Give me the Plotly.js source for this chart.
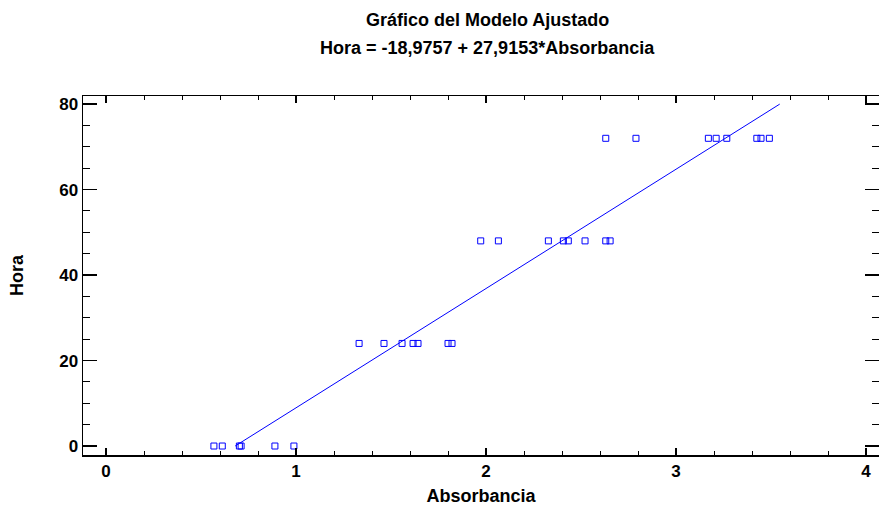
<!DOCTYPE html>
<html>
<head>
<meta charset="utf-8">
<script src="https://cdn.plot.ly/plotly-3.0.1.min.js"></script>
<style>html,body{margin:0;padding:0;background:#fff;}#chart{width:879px;height:508px;}</style>
</head>
<body>
<div id="chart"></div>
<script>
// Observed data: Absorbancia (x) and Hora (y)
const absorbancia = [
  0.568, 0.612, 0.702, 0.711, 0.889, 0.989,
  1.332, 1.463, 1.558, 1.616, 1.642, 1.800, 1.821,
  1.972, 2.065, 2.328, 2.407, 2.433, 2.521, 2.630, 2.653,
  2.630, 2.789, 3.170, 3.211, 3.267, 3.425, 3.447, 3.491
];
const hora = [
  0, 0, 0, 0, 0, 0,
  24, 24, 24, 24, 24, 24, 24,
  48, 48, 48, 48, 48, 48, 48, 48,
  72, 72, 72, 72, 72, 72, 72, 72
];
// Fitted model
const intercept = -18.9757;
const slope = 27.9153;
const fitYLimits = [0, 80];
const lineX = fitYLimits.map(v => (v - intercept) / slope);
const lineY = lineX.map(v => intercept + slope * v);

const titleLines = ['Gráfico del Modelo Ajustado', 'Hora = -18,9757 + 27,9153*Absorbancia'];
const xTitle = 'Absorbancia';
const yTitle = 'Hora';

const blue = '#0000ff';
const font = {family: 'Liberation Sans, Arial, sans-serif', size: 17, color: '#000'};
const boldFont = Object.assign({}, font, {weight: 'bold'});

const traces = [
  {x: lineX, y: lineY, type: 'scatter', mode: 'lines',
   line: {color: blue, width: 1}, hoverinfo: 'skip'},
  {x: absorbancia, y: hora, type: 'scatter', mode: 'markers',
   marker: {symbol: 'square-open', size: 6, color: blue, line: {width: 1, color: blue}}}
];

const layout = {
  width: 879, height: 508,
  margin: {l: 83, r: 0, t: 96, b: 53},
  paper_bgcolor: '#fff', plot_bgcolor: '#fff',
  showlegend: false,
  font: font,
  xaxis: {
    range: [-0.121, 4.068], tickvals: [0, 1, 2, 3, 4],
    showgrid: false, zeroline: false,
    showline: true, linecolor: '#000', linewidth: 1.5, mirror: 'allticks',
    ticks: 'inside', ticklen: 7, tickwidth: 1.5, tickcolor: '#000',
    tickfont: Object.assign({}, boldFont, {size: 17}),
    minor: {dtick: 0.2, ticks: 'inside', ticklen: 4, tickwidth: 1, tickcolor: '#000', showgrid: false},
    title: {text: xTitle, font: Object.assign({}, boldFont, {size: 18}), standoff: 9}
  },
  yaxis: {
    range: [-2.1, 81.9], tickvals: [0, 20, 40, 60, 80],
    showgrid: false, zeroline: false,
    showline: true, linecolor: '#000', linewidth: 1.5, mirror: 'allticks',
    ticks: 'inside', ticklen: 14, tickwidth: 1.5, tickcolor: '#000',
    tickfont: Object.assign({}, boldFont, {size: 17}),
    minor: {dtick: 5, ticks: 'inside', ticklen: 7, tickwidth: 1, tickcolor: '#000', showgrid: false},
    title: {text: yTitle, font: Object.assign({}, boldFont, {size: 18}), standoff: 31}
  },
  annotations: [
    {text: titleLines[0], xref: 'paper', yref: 'paper', x: 0.508, y: 1, yshift: 76,
     showarrow: false, font: Object.assign({}, boldFont, {size: 18}), xanchor: 'center', yanchor: 'middle'},
    {text: titleLines[1], xref: 'paper', yref: 'paper', x: 0.508, y: 1, yshift: 48,
     showarrow: false, font: Object.assign({}, boldFont, {size: 18}), xanchor: 'center', yanchor: 'middle'}
  ]
};

Plotly.newPlot('chart', traces, layout, {displayModeBar: false, staticPlot: true});
</script>
</body>
</html>
